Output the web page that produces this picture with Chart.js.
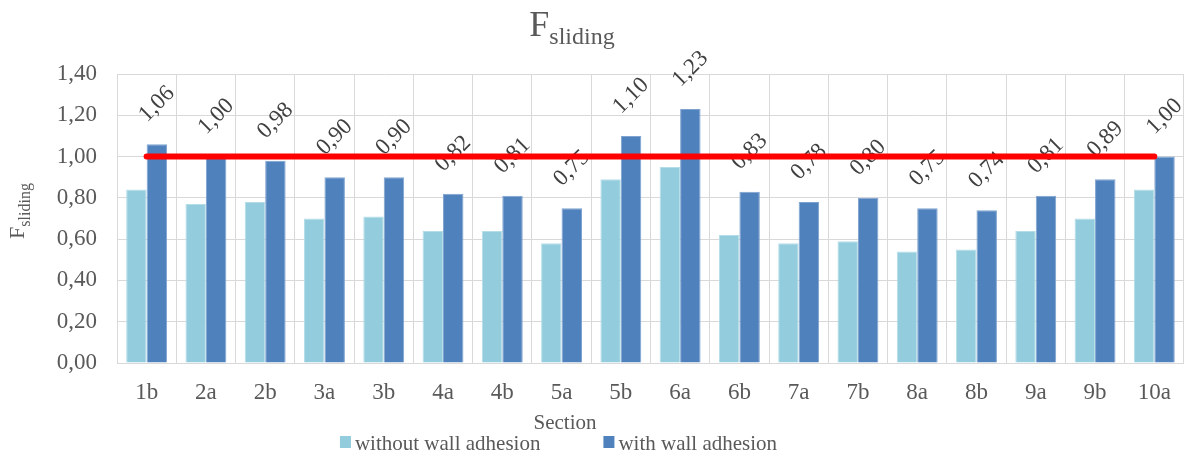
<!DOCTYPE html>
<html>
<head>
<meta charset="utf-8">
<title>F sliding per section</title>
<script src="https://cdn.jsdelivr.net/npm/chart.js@4.4.1/dist/chart.umd.min.js"></script>
<style>
  html, body { margin: 0; padding: 0; background: #ffffff; }
  #wrap { position: relative; width: 1187px; height: 454px; }
</style>
</head>
<body>
<div id="wrap"><canvas id="chart" width="1187" height="454"></canvas></div>
<script>
// Sections along the x axis
const sections = ['1b', '2a', '2b', '3a', '3b', '4a', '4b', '5a', '5b', '6a', '6b', '7a', '7b', '8a', '8b', '9a', '9b', '10a'];

// Safety factor against sliding, without wall adhesion
const withoutAdhesion = [0.84, 0.77, 0.78, 0.70, 0.71, 0.64, 0.64, 0.58, 0.89, 0.95, 0.62, 0.58, 0.59, 0.54, 0.55, 0.64, 0.70, 0.84];

// Safety factor against sliding, with wall adhesion
const withAdhesion = [1.06, 1.00, 0.98, 0.90, 0.90, 0.82, 0.81, 0.75, 1.10, 1.23, 0.83, 0.78, 0.80, 0.75, 0.74, 0.81, 0.89, 1.00];

// Required minimum (F = 1,00)
const requiredLevel = sections.map(() => 1.00);

// Y axis range and tick step
const yMin = 0;
const yMax = 1.40;
const yStep = 0.20;

const seriesNames = ['without wall adhesion', 'with wall adhesion'];

const SERIF = '"Liberation Serif", "Times New Roman", serif';
const TEXT = '#595959';
const GRID = '#d9d9d9';

const fmt = v => Number(v).toFixed(2).replace('.', ',');

// Rotated value labels above the "with wall adhesion" bars
const valueLabels = {
  id: 'valueLabels',
  afterDatasetDraw(chart, args) {
    if (args.index !== 1) return;
    const ctx = chart.ctx;
    const meta = args.meta;
    const values = chart.data.datasets[1].data;
    ctx.save();
    ctx.font = '23px ' + SERIF;
    ctx.fillStyle = '#404040';
    ctx.textAlign = 'center';
    ctx.textBaseline = 'middle';
    meta.data.forEach((bar, i) => {
      ctx.save();
      ctx.translate(bar.x, bar.y - 40);
      ctx.rotate(-Math.PI / 4);
      ctx.fillText(fmt(values[i]), 0, 0);
      ctx.restore();
    });
    ctx.restore();
  }
};

// Titles with subscripts, axis title and legend
const annotations = {
  id: 'annotations',
  afterDraw(chart) {
    const ctx = chart.ctx;
    ctx.save();
    ctx.fillStyle = TEXT;
    ctx.textBaseline = 'alphabetic';
    ctx.textAlign = 'left';

    // Chart title: F with subscript "sliding"
    ctx.font = '36px ' + SERIF;
    const wF = ctx.measureText('F').width;
    ctx.font = '24px ' + SERIF;
    const wSub = ctx.measureText('sliding').width;
    const titleCenter = 572;
    let x = titleCenter - (wF + wSub) / 2;
    ctx.font = '36px ' + SERIF;
    ctx.fillText('F', x, 36);
    ctx.font = '24px ' + SERIF;
    ctx.fillText('sliding', x + wF, 44);

    // Y axis title, rotated
    ctx.save();
    ctx.translate(24, 211);
    ctx.rotate(-Math.PI / 2);
    ctx.font = '22px ' + SERIF;
    const yF = ctx.measureText('F').width;
    ctx.font = '16px ' + SERIF;
    const ySub = ctx.measureText('sliding').width;
    const y0 = -(yF + ySub) / 2;
    ctx.font = '22px ' + SERIF;
    ctx.fillText('F', y0, 0);
    ctx.font = '16px ' + SERIF;
    ctx.fillText('sliding', y0 + yF, 6);
    ctx.restore();

    // X axis title
    ctx.font = '21px ' + SERIF;
    ctx.textAlign = 'center';
    ctx.fillText('Section', 565, 429);

    // Legend
    ctx.textAlign = 'left';
    ctx.font = '21px ' + SERIF;
    const box = 11, gapText = 4, gapItem = 63;
    const colors = chart.data.datasets.slice(0, 2).map(d => d.backgroundColor);
    const widths = seriesNames.map(n => ctx.measureText(n).width);
    const total = widths.reduce((a, w) => a + box + gapText + w, 0) + gapItem;
    let lx = 558.5 - total / 2;
    seriesNames.forEach((name, i) => {
      ctx.fillStyle = colors[i];
      ctx.fillRect(lx, 436, box, 12);
      ctx.fillStyle = TEXT;
      ctx.fillText(name, lx + box + gapText, 450);
      lx += box + gapText + widths[i] + gapItem;
    });
    ctx.restore();
  }
};

new Chart(document.getElementById('chart'), {
  data: {
    labels: sections,
    datasets: [
      {
        type: 'bar',
        label: seriesNames[0],
        data: withoutAdhesion,
        backgroundColor: '#93cddd',
        borderColor: '#b4dde8',
        borderWidth: 1,
        categoryPercentage: 0.69,
        barPercentage: 1.0,
        order: 1
      },
      {
        type: 'bar',
        label: seriesNames[1],
        data: withAdhesion,
        backgroundColor: '#4f81bd',
        borderColor: '#7fa3cf',
        borderWidth: 1,
        categoryPercentage: 0.69,
        barPercentage: 1.0,
        order: 1
      },
      {
        type: 'line',
        label: 'F = 1,00',
        data: requiredLevel,
        borderColor: '#ff0000',
        borderWidth: 6,
        borderCapStyle: 'round',
        pointRadius: 0,
        fill: false,
        order: 0
      }
    ]
  },
  options: {
    responsive: false,
    animation: false,
    devicePixelRatio: 1,
    layout: { padding: { top: 74, right: 3, left: 0, bottom: 0 } },
    plugins: {
      legend: { display: false },
      title: { display: false },
      tooltip: { enabled: false }
    },
    scales: {
      x: {
        offset: true,
        grid: { color: GRID, lineWidth: 1, offset: true, drawTicks: false },
        border: { color: GRID, width: 1 },
        ticks: { color: TEXT, font: { family: SERIF, size: 23 }, padding: 16, maxRotation: 0 },
        afterFit(scale) { scale.height = 91; }
      },
      y: {
        min: yMin,
        max: yMax,
        grid: { color: GRID, lineWidth: 1, drawTicks: false },
        border: { color: GRID, width: 1 },
        ticks: {
          stepSize: yStep,
          color: TEXT,
          font: { family: SERIF, size: 23 },
          padding: 20,
          callback: v => fmt(v)
        },
        afterFit(scale) { scale.width = 117; }
      }
    }
  },
  plugins: [valueLabels, annotations]
});
</script>
</body>
</html>
